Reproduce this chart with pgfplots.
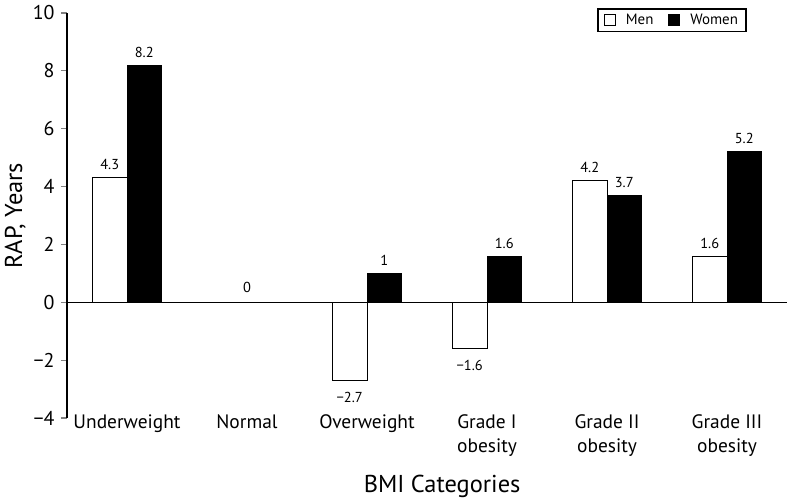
\documentclass[border=0pt]{standalone}
\usepackage{fontspec}
\setmainfont{PT Sans}
\usepackage{pgfplots}
\pgfplotsset{compat=1.18}

\begin{document}
\begin{tikzpicture}
\begin{axis}[
    scale only axis,
    width=720bp, height=405bp,
    ybar=0pt, bar width=34.5bp,
    xmin=-0.5, xmax=5.5, ymin=-4, ymax=10,
    axis lines=left,
    x axis line style={draw=none},
    y axis line style={-, line width=1.2bp},
    xtick={0,1,2,3,4,5},
    xticklabels={Underweight, Normal, Overweight, {Grade I\\obesity}, {Grade II\\obesity}, {Grade III\\obesity}},
    xtick style={draw=none},
    xticklabel style={align=center, font=\fontsize{19.5}{24}\selectfont, anchor=north, yshift=13bp},
    ytick={-4,-2,0,2,4,6,8,10},
    yticklabels={−4,−2,0,2,4,6,8,10},
    ytick style={line width=1.2bp},
    tick align=outside, major tick length=6bp,
    yticklabel style={font=\fontsize{20}{22}\selectfont, xshift=-3bp},
    ylabel={RAP, Years},
    every axis y label/.style={at={(axis description cs:-0.072,0.5)}, rotate=90, anchor=center, font=\fontsize{24.5}{26}\selectfont},
    xlabel={BMI Categories},
    every axis x label/.style={at={(axis description cs:0.521,-0.168)}, anchor=center, font=\fontsize{24.5}{26}\selectfont},
    point meta=explicit symbolic,
    nodes near coords={\pgfplotspointmeta},
    every node near coord/.append style={font=\fontsize{14.5}{16}\selectfont, black, anchor=south, yshift=4bp},
    legend columns=2,
    legend style={at={(0.944,1.012)}, anchor=north east, draw=black, line width=1.4bp,
        font=\fontsize{15}{17}\selectfont, inner xsep=6bp, inner ysep=3.5bp,
        /tikz/every odd column/.append style={column sep=8bp},
        /tikz/every even column/.append style={column sep=13bp}},
    legend image code/.code={\draw[#1, line width=0.9bp] (0bp,-5.5bp) rectangle (11bp,5.5bp);},
]
% Men, positive values
\addplot[fill=white, draw=black, line width=0.9bp, bar shift=-17.25bp] coordinates {
    (0,4.3) [4.3] (4,4.2) [4.2] (5,1.6) [1.6]
};
% Women
\addplot[fill=black, draw=black, line width=0.9bp, bar shift=17.25bp] coordinates {
    (0,8.2) [8.2] (2,1) [1] (3,1.6) [1.6] (4,3.7) [3.7] (5,5.2) [5.2]
};
% Men, negative values (labels below)
\addplot[fill=white, draw=black, line width=0.9bp, bar shift=-17.25bp, forget plot,
    every node near coord/.append style={anchor=north, yshift=-12bp}] coordinates {
    (2,-2.7) [−2.7] (3,-1.6) [−1.6]
};
\legend{Men, Women}
\draw[black, line width=1.2bp] (axis cs:-0.5,0) -- (axis cs:5.5,0);
\node[anchor=south, font=\fontsize{14.5}{16}\selectfont, yshift=6bp] at (axis cs:1,0) {0};
\end{axis}
\pgfresetboundingbox
\path[use as bounding box] ([shift={(-67bp,-82bp)}]current axis.south west) rectangle ([shift={(3bp,13bp)}]current axis.north east);
\end{tikzpicture}
\end{document}
